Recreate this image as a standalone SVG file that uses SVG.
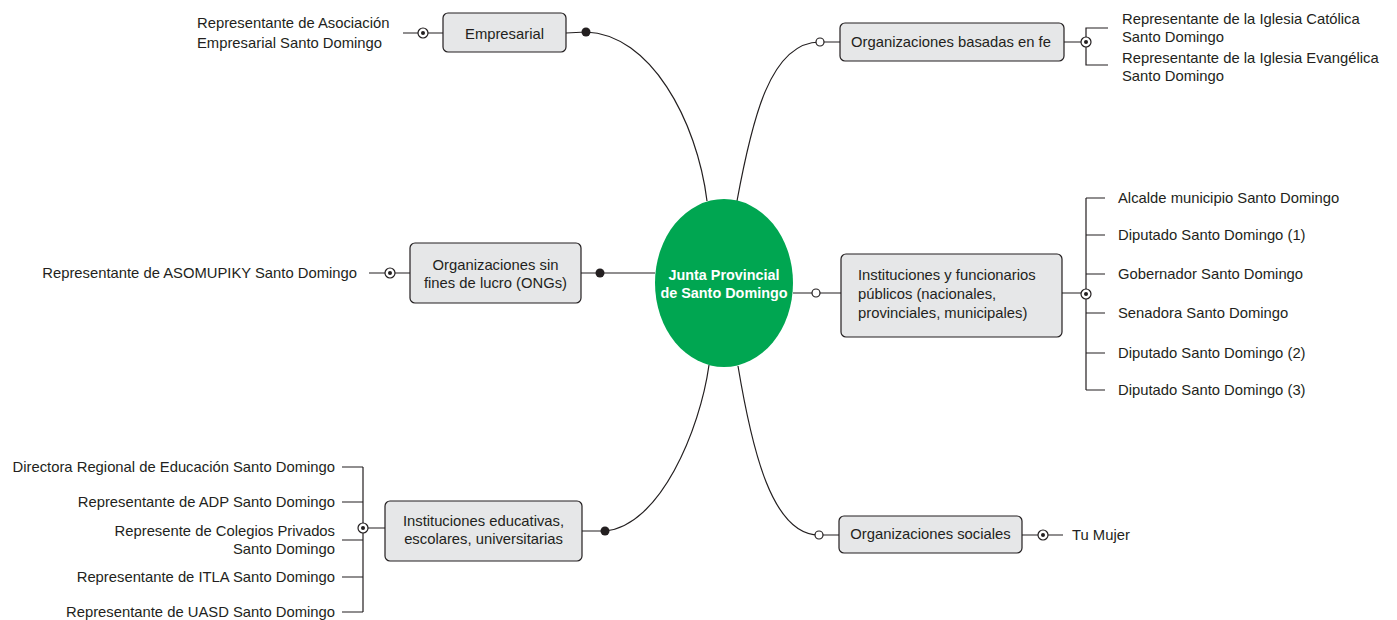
<svg xmlns="http://www.w3.org/2000/svg" width="1397" height="620" viewBox="0 0 1397 620">
<style>
.box{fill:#e6e7e8;stroke:#231f20;stroke-width:1.2}
.ln{fill:none;stroke:#231f20;stroke-width:1.2}
.t{font-family:"Liberation Sans",Arial,sans-serif;font-size:14.8px;fill:#231f20}
.m{text-anchor:middle}
.e{text-anchor:end}
.c{font-family:"Liberation Sans",Arial,sans-serif;font-size:14.4px;font-weight:bold;fill:#ffffff;text-anchor:middle}
.open{fill:#ffffff;stroke:#231f20;stroke-width:1.2}
.dot{fill:#231f20}
</style>
<defs>
<g id="target"><circle r="5" fill="#ffffff" stroke="#231f20" stroke-width="1.2"/><circle r="2" fill="#231f20"/></g>
</defs>
<rect width="1397" height="620" fill="#ffffff"/>
<g id="connectors">
<path class="ln" d="M566,33 L586,32 C650,34 697,120 707,201"/>
<path class="ln" d="M737,201 C752,120 770,42 820,42 L840,42"/>
<path class="ln" d="M581,273 L655,273"/>
<path class="ln" d="M793,293 L841,293"/>
<path class="ln" d="M582,531 L605,531 C660,526 700,430 709,365"/>
<path class="ln" d="M738,366 C752,450 772,535 819,535 L839,535"/>
<path class="ln" d="M403,33 L443,33"/>
<path class="ln" d="M1064,42 L1086,42 M1108,28 L1086,28 L1086,65 L1108,65"/>
<path class="ln" d="M369,273 L410,273"/>
<path class="ln" d="M1062,293 L1086,293 M1086,198 L1086,390 M1086,198 L1105,198 M1086,235 L1105,235 M1086,274 L1105,274 M1086,313 L1105,313 M1086,353 L1105,353 M1086,390 L1105,390"/>
<path class="ln" d="M385,528 L363,528 M363,467 L363,612 M342,467 L363,467 M342,502 L363,502 M342,540 L363,540 M342,577 L363,577 M342,612 L363,612"/>
<path class="ln" d="M1022,535 L1063,535"/>
<circle class="dot" cx="586" cy="32" r="4.5"/>
<circle class="dot" cx="600" cy="273" r="4.5"/>
<circle class="dot" cx="605" cy="531" r="4.5"/>
<circle class="open" cx="820" cy="42" r="4"/>
<circle class="open" cx="816" cy="293" r="4"/>
<circle class="open" cx="819" cy="535" r="4"/>
<use href="#target" x="423" y="33"/>
<use href="#target" x="1086" y="42"/>
<use href="#target" x="390" y="273"/>
<use href="#target" x="1086" y="294"/>
<use href="#target" x="363" y="528"/>
<use href="#target" x="1043" y="535"/>
</g>
<g id="center">
<ellipse cx="724" cy="283" rx="69" ry="84" fill="#00a651"/>
<text class="c" x="724" y="280">Junta Provincial</text>
<text class="c" x="724" y="298">de Santo Domingo</text>
</g>
<g id="empresarial">
<rect class="box" x="443" y="13" width="123" height="39" rx="5"/>
<text class="t m" x="504.5" y="39">Empresarial</text>
</g>
<g id="empresarial-items">
<text class="t" x="197" y="28">Representante de Asociación</text>
<text class="t" x="197" y="48">Empresarial Santo Domingo</text>
</g>
<g id="fe">
<rect class="box" x="840" y="23" width="224" height="38" rx="5"/>
<text class="t m" x="951" y="47">Organizaciones basadas en fe</text>
</g>
<g id="fe-items">
<text class="t" x="1122" y="24">Representante de la Iglesia Católica</text>
<text class="t" x="1122" y="42">Santo Domingo</text>
<text class="t" x="1122" y="63">Representante de la Iglesia Evangélica</text>
<text class="t" x="1122" y="81">Santo Domingo</text>
</g>
<g id="ongs">
<rect class="box" x="410" y="243" width="171" height="60" rx="5"/>
<text class="t m" x="495.5" y="270">Organizaciones sin</text>
<text class="t m" x="495.5" y="288">fines de lucro (ONGs)</text>
</g>
<g id="ongs-items">
<text class="t e" x="357" y="278">Representante de ASOMUPIKY Santo Domingo</text>
</g>
<g id="publicas">
<rect class="box" x="841" y="254" width="221" height="83" rx="5"/>
<text class="t" x="858" y="280">Instituciones y funcionarios</text>
<text class="t" x="858" y="299">públicos (nacionales,</text>
<text class="t" x="858" y="318">provinciales, municipales)</text>
</g>
<g id="publicas-items">
<text class="t" x="1118" y="203">Alcalde municipio Santo Domingo</text>
<text class="t" x="1118" y="240">Diputado Santo Domingo (1)</text>
<text class="t" x="1118" y="279">Gobernador Santo Domingo</text>
<text class="t" x="1118" y="318">Senadora Santo Domingo</text>
<text class="t" x="1118" y="358">Diputado Santo Domingo (2)</text>
<text class="t" x="1118" y="395">Diputado Santo Domingo (3)</text>
</g>
<g id="educativas">
<rect class="box" x="385" y="501" width="197" height="60" rx="5"/>
<text class="t m" x="483.5" y="526">Instituciones educativas,</text>
<text class="t m" x="483.5" y="544">escolares, universitarias</text>
</g>
<g id="educativas-items">
<text class="t e" x="335" y="472">Directora Regional de Educación Santo Domingo</text>
<text class="t e" x="335" y="507">Representante de ADP Santo Domingo</text>
<text class="t e" x="335" y="536">Represente de Colegios Privados</text>
<text class="t e" x="335" y="554">Santo Domingo</text>
<text class="t e" x="335" y="582">Representante de ITLA Santo Domingo</text>
<text class="t e" x="335" y="617">Representante de UASD Santo Domingo</text>
</g>
<g id="sociales">
<rect class="box" x="839" y="516" width="183" height="37" rx="5"/>
<text class="t m" x="930.5" y="539">Organizaciones sociales</text>
</g>
<g id="sociales-items">
<text class="t" x="1072" y="540">Tu Mujer</text>
</g>
</svg>
